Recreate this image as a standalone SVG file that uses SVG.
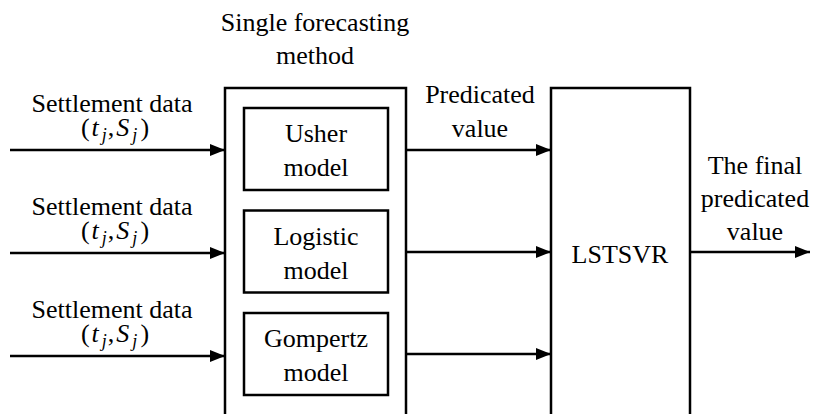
<svg xmlns="http://www.w3.org/2000/svg" width="813" height="414" viewBox="0 0 813 414">
<defs>
<style>
text{font-family:"Liberation Serif","Times New Roman",serif;font-size:26px;fill:#000;text-anchor:middle}
.box{fill:#fff;stroke:#000;stroke-width:2.5}
.ln{stroke:#000;stroke-width:2.5;fill:none}
.it{font-style:italic}
.sub{font-size:18px;font-style:italic}
</style>
<marker id="ah" markerWidth="15" markerHeight="12" refX="15" refY="6" orient="auto" markerUnits="userSpaceOnUse">
<path d="M0,0 L15,6 L0,12 Z" fill="#000"/>
</marker>
</defs>
<rect width="813" height="414" fill="#fff"/>
<text x="315" y="31">Single forecasting</text>
<text x="315" y="64">method</text>
<g id="outer"><rect class="box" x="225" y="88" width="181" height="340"/></g>
<g id="usher"><rect class="box" x="244" y="108" width="144" height="82"/><text x="316" y="142">Usher</text><text x="316" y="176">model</text></g>
<g id="logistic"><rect class="box" x="244" y="210.5" width="144" height="82"/><text x="316" y="244.5">Logistic</text><text x="316" y="278.5">model</text></g>
<g id="gompertz"><rect class="box" x="244" y="313" width="144" height="82"/><text x="316" y="347">Gompertz</text><text x="316" y="381">model</text></g>
<g id="lstsvr"><rect class="box" x="551" y="88" width="139" height="340"/><text x="620" y="263">LSTSVR</text></g>
<g id="labels">
<text x="112" y="112">Settlement data</text>
<text x="112" y="215">Settlement data</text>
<text x="112" y="318">Settlement data</text>
<text x="115" y="136">(<tspan class="it" dx="2">t</tspan><tspan class="sub" dx="3" dy="5">j</tspan><tspan dx="1" dy="-5">,</tspan><tspan class="it" dx="2">S</tspan><tspan class="sub" dx="3" dy="5">j</tspan><tspan dx="3" dy="-5">)</tspan></text>
<text x="115" y="239">(<tspan class="it" dx="2">t</tspan><tspan class="sub" dx="3" dy="5">j</tspan><tspan dx="1" dy="-5">,</tspan><tspan class="it" dx="2">S</tspan><tspan class="sub" dx="3" dy="5">j</tspan><tspan dx="3" dy="-5">)</tspan></text>
<text x="115" y="342">(<tspan class="it" dx="2">t</tspan><tspan class="sub" dx="3" dy="5">j</tspan><tspan dx="1" dy="-5">,</tspan><tspan class="it" dx="2">S</tspan><tspan class="sub" dx="3" dy="5">j</tspan><tspan dx="3" dy="-5">)</tspan></text>
<text x="480" y="103">Predicated</text>
<text x="480" y="137">value</text>
<text x="755" y="174">The final</text>
<text x="755" y="207">predicated</text>
<text x="755" y="240">value</text>
</g>
<g id="connectors">
<line class="ln" x1="10" y1="150" x2="225" y2="150" marker-end="url(#ah)"/>
<line class="ln" x1="10" y1="253" x2="225" y2="253" marker-end="url(#ah)"/>
<line class="ln" x1="10" y1="356" x2="225" y2="356" marker-end="url(#ah)"/>
<line class="ln" x1="406" y1="150" x2="551" y2="150" marker-end="url(#ah)"/>
<line class="ln" x1="406" y1="252" x2="551" y2="252" marker-end="url(#ah)"/>
<line class="ln" x1="406" y1="354" x2="551" y2="354" marker-end="url(#ah)"/>
<line class="ln" x1="690" y1="252" x2="810" y2="252" marker-end="url(#ah)"/>
</g>
</svg>
